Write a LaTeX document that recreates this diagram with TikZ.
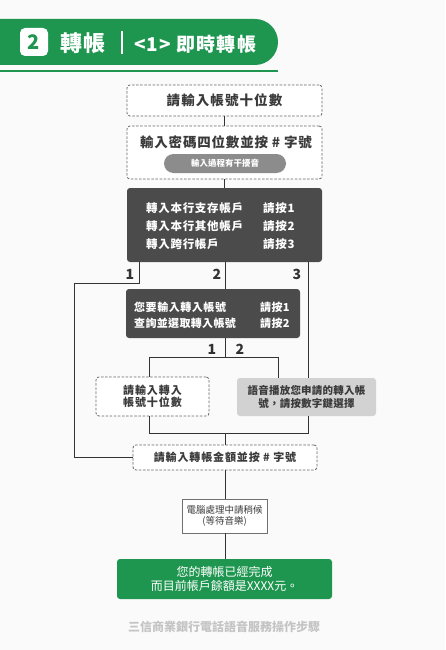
\documentclass[tikz,border=0pt]{standalone}
\usepackage{fontspec}
\setmainfont{Noto Sans CJK TC}
\usetikzlibrary{calc}
\definecolor{bg}{HTML}{FAFAFA}
\definecolor{grn}{HTML}{1F9650}
\definecolor{darkbox}{HTML}{4B4B4B}
\definecolor{pill}{HTML}{8C8C8C}
\definecolor{lightbox}{HTML}{D2D2D2}
\definecolor{txt}{HTML}{3A3A3A}
\definecolor{ln}{HTML}{333333}
\definecolor{foot}{HTML}{C4C4C4}
\newcommand{\LS}[1]{\addfontfeature{LetterSpace=#1}}
\tikzset{
  dbox/.style={draw=ln!75, dash pattern=on 2.5pt off 1.6pt, line width=0.8pt, rounded corners=3pt, fill=white, inner sep=0pt, text=txt, font=\bfseries},
  dkbox/.style={fill=darkbox, rounded corners=3pt, inner sep=0pt},
  wtxt/.style={text=white, font=\bfseries\fontsize{11.5}{18}\selectfont\LS{6}, inner sep=0pt, anchor=west},
  lab/.style={text=ln, font=\bfseries\fontsize{14}{14}\selectfont, inner sep=0pt},
  conn/.style={draw=ln, line width=0.9pt},
}
\begin{document}
\begin{tikzpicture}[x=1pt,y=-1pt]
\useasboundingbox[fill=bg] (0,0) rectangle (445,650);
% header
\begin{scope}
\clip (0,0) rectangle (445,650);
\fill[grn, rounded corners=23pt] (-40,19) rectangle (278,65);
\end{scope}
\draw[grn, line width=1.2pt] (0,71) -- (278,71);
\node[fill=white, rounded corners=5pt, minimum width=28pt, minimum height=28pt, inner sep=0pt, text=grn, font=\bfseries\fontsize{20}{20}\selectfont] (icon) at (34,42) {2};
\node[text=white, font=\bfseries\fontsize{22}{22}\selectfont\LS{8}, inner sep=0pt, anchor=west] (h1) at (60,43) {轉帳};
\draw[white, line width=2pt] (122,31) -- (122,54);
\node[text=white, font=\bfseries\fontsize{19}{19}\selectfont\LS{6}, inner sep=0pt, anchor=west] (h2) at (134,44) {<1> 即時轉帳};

% box 1
\node[dbox, minimum width=195pt, minimum height=31pt, font=\bfseries\fontsize{13.5}{13.5}\selectfont\LS{8}] (b1) at (224.5,100.5) {請輸入帳號十位數};
% box 2
\node[dbox, minimum width=195pt, minimum height=53pt] (b2) at (224.5,152.5) {};
\node[text=txt, font=\bfseries\fontsize{13.5}{13.5}\selectfont\LS{6}, inner sep=0pt] (b2t) at (226,142) {輸入密碼四位數並按 \# 字號};
\node[fill=pill, rounded corners=9.5pt, minimum width=122pt, minimum height=19pt, inner sep=0pt, text=white, font=\bfseries\fontsize{8.5}{8.5}\selectfont] (pl) at (225,163.5) {輸入過程有干擾音};
% box 3
\node[dkbox, minimum width=195pt, minimum height=74pt] (b3) at (224.5,225) {};
\node[wtxt] (b3a) at (146,208) {轉入本行支存帳戶};
\node[wtxt] (b3b) at (146,226) {轉入本行其他帳戶};
\node[wtxt] (b3c) at (146,244) {轉入跨行帳戶};
\node[wtxt] (b3d) at (263,208) {請按1};
\node[wtxt] (b3e) at (263,226) {請按2};
\node[wtxt] (b3f) at (263,244) {請按3};
% box 4
\node[dkbox, minimum width=174pt, minimum height=49pt] (b4) at (213,313.5) {};
\node[wtxt, font=\bfseries\fontsize{11}{16}\selectfont\LS{5}] (b4a) at (134,307) {您要輸入轉入帳號};
\node[wtxt, font=\bfseries\fontsize{11}{16}\selectfont\LS{3}] (b4b) at (134,323) {查詢並選取轉入帳號};
\node[wtxt, font=\bfseries\fontsize{11}{16}\selectfont\LS{3}] (b4c) at (260,307) {請按1};
\node[wtxt, font=\bfseries\fontsize{11}{16}\selectfont\LS{3}] (b4d) at (260,323) {請按2};
% box 5a, 5b
\node[dbox, minimum width=113pt, minimum height=39pt, align=center, font=\bfseries\fontsize{11}{12.5}\selectfont\LS{8}] (b5a) at (152.5,396.5) {請輸入轉入\\帳號十位數};
\node[fill=lightbox, rounded corners=3pt, minimum width=139pt, minimum height=38pt, inner sep=0pt, align=center, text=txt, font=\bfseries\fontsize{10.5}{12.5}\selectfont\LS{2}] (b5b) at (306.5,397) {語音播放您申請的轉入帳\\號，請按數字鍵選擇};
% box 6
\node[dbox, minimum width=184pt, minimum height=25pt, font=\bfseries\fontsize{11}{11}\selectfont\LS{8}] (b6) at (225,457.5) {請輸入轉帳金額並按 \# 字號};
% box 7
\node[draw=ln!70, line width=0.7pt, fill=white, minimum width=85pt, minimum height=34pt, inner sep=0pt, align=center, text=txt, font=\fontsize{9.5}{11.5}\selectfont] (b7) at (224.5,516) {電腦處理中請稍候\\(等待音樂)};
% box 8
\node[fill=grn, rounded corners=3pt, minimum width=215pt, minimum height=40pt, inner sep=0pt, align=center, text=white, font=\fontsize{12}{14.5}\selectfont] (b8) at (224.5,579) {您的轉帳已經完成\\而目前帳戶餘額是XXXX元。};
% footer
\node[text=foot, font=\bfseries\fontsize{12}{12}\selectfont] (ft) at (224,627) {三信商業銀行電話語音服務操作步驟};

% coordinates
\coordinate (k1) at (139,283);
\coordinate (k2) at (74,283);
\coordinate (k3) at (74,457.5);
\coordinate (r3) at (308,300);
\coordinate (m1) at (225,357);
\coordinate (m2) at (149,357);
\coordinate (m3) at (278,357);
\coordinate (n1) at (225,433);
\coordinate (n2) at (149,433);
\coordinate (n3) at (308,433);

% connectors
\draw[conn] (b1.south) -- (b2.north);
\draw[conn] (b2.south) -- (b3.north);
\draw[conn] (b3.south -| k1) -- (k1) -- (k2) -- (k3) -- (b6.west);
\draw[conn] (b3.south -| m1) -- (b4.north -| m1);
\draw[conn] (b3.south -| r3) -- (b5b.north -| r3);
\draw[conn] (b4.south -| m1) -- (m1);
\draw[conn] (b5a.north -| m2) -- (m2) -- (m3) -- (b5b.north -| m3);
\draw[conn] (b5a.south -| n2) -- (n2) -- (n3) -- (b5b.south -| n3);
\draw[conn] (n1) -- (b6.north -| n1);
\draw[conn] (b6.south -| n1) -- (b7.north -| n1);
\draw[conn] (b7.south -| n1) -- (b8.north -| n1);

% labels
\node[lab] (l1) at (130,274) {1};
\node[lab] (l2) at (217,274) {2};
\node[lab] (l3) at (297,274) {3};
\node[lab] (l4) at (212,349) {1};
\node[lab] (l5) at (240,349) {2};
\end{tikzpicture}
\end{document}
